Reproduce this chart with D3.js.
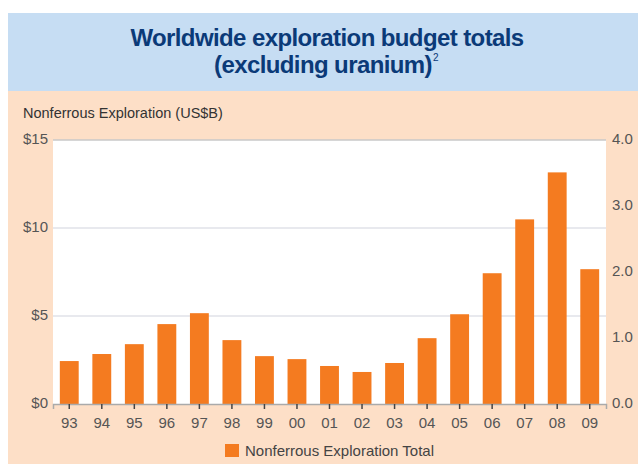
<!DOCTYPE html>
<html><head><meta charset="utf-8">
<script src="https://cdn.jsdelivr.net/npm/d3@7"></script>
<style>
html,body{margin:0;padding:0;background:#fff;}
svg{display:block;}
</style></head>
<body>
<svg id="chart" width="638" height="464"></svg>
<script>
const years = ["93","94","95","96","97","98","99","00","01","02","03","04","05","06","07","08","09"];
const totals = [2.44, 2.84, 3.40, 4.54, 5.16, 3.63, 2.72, 2.55, 2.16, 1.82, 2.33, 3.74, 5.10, 7.43, 10.49, 13.16, 7.66];
const leftTicks = [0, 5, 10, 15];
const rightTicks = [0, 1, 2, 3, 4];
const seriesName = "Nonferrous Exploration Total";
const titleLines = ["Worldwide exploration budget totals", "(excluding uranium)"];
const yTitle = "Nonferrous Exploration (US$B)";

const svg = d3.select("#chart");
const W = 638, H = 464;
const m = {left: 53, right: 606, top: 140, bottom: 404};

// backgrounds
svg.append("rect").attr("x", 8).attr("y", 13).attr("width", W - 8).attr("height", 78).attr("fill", "#c6ddf3");
svg.append("rect").attr("x", 8).attr("y", 91).attr("width", W - 8).attr("height", H - 91).attr("fill", "#fddfc7");

// title
const tfont = "'Liberation Sans', Arial, sans-serif";
svg.append("text").attr("x", 327).attr("y", 46).attr("text-anchor", "middle")
  .attr("font-family", tfont).attr("font-weight", "bold").attr("font-size", 24)
  .attr("letter-spacing", -0.6).attr("fill", "#0b3a78").text(titleLines[0]);
const t2 = svg.append("text").attr("x", 323).attr("y", 73).attr("text-anchor", "middle")
  .attr("font-family", tfont).attr("font-weight", "bold").attr("font-size", 24)
  .attr("letter-spacing", -0.6).attr("fill", "#0b3a78").text(titleLines[1]);
const bb = t2.node().getBBox();
svg.append("text").attr("x", bb.x + bb.width + 1).attr("y", 61)
  .attr("font-family", tfont).attr("font-size", 10).attr("fill", "#0b3a78").text("2");

// y title
svg.append("text").attr("x", 23).attr("y", 118)
  .attr("font-family", tfont).attr("font-size", 14.5).attr("fill", "#333").text(yTitle);

// scales
const x = d3.scaleBand().domain(years).range([m.left, m.right]).paddingInner(0.42).paddingOuter(0.21);
const y = d3.scaleLinear().domain([0, 15]).range([m.bottom, m.top]);
const y2 = d3.scaleLinear().domain([0, 4]).range([m.bottom, m.top]);

// plot bg
svg.append("rect").attr("x", m.left).attr("y", m.top).attr("width", m.right - m.left).attr("height", m.bottom - m.top).attr("fill", "#fff");

// gridlines
svg.append("g").selectAll("line").data(leftTicks.filter(d => d > 0)).join("line")
  .attr("x1", m.left).attr("x2", m.right)
  .attr("y1", d => y(d)).attr("y2", d => y(d))
  .attr("stroke", d => d === 15 ? "#c8c8c8" : "#e1e2e8").attr("stroke-width", 1.5);

// bars
svg.append("g").selectAll("rect").data(years).join("rect")
  .attr("x", d => x(d)).attr("width", x.bandwidth())
  .attr("y", (d, i) => y(totals[i])).attr("height", (d, i) => y(0) - y(totals[i]))
  .attr("fill", "#f47b20");

// axes
const lab = "'Liberation Sans', Arial, sans-serif";
const gl = svg.append("g").attr("transform", `translate(${m.left},0)`)
  .call(d3.axisLeft(y).tickValues(leftTicks).tickFormat(d => "$" + d).tickSize(0).tickPadding(5));
gl.select(".domain").remove();
gl.selectAll("text").attr("font-family", lab).attr("font-size", 15).attr("fill", "#555").attr("dy", "0.2em");

const gr = svg.append("g").attr("transform", `translate(${m.right},0)`)
  .call(d3.axisRight(y2).tickValues(rightTicks).tickFormat(d3.format(".1f")).tickSize(0).tickPadding(6));
gr.select(".domain").remove();
gr.selectAll("text").attr("font-family", lab).attr("font-size", 15).attr("fill", "#555").attr("dy", "0.2em");

const gb = svg.append("g").attr("transform", `translate(0,${m.bottom})`)
  .call(d3.axisBottom(x).tickSize(5).tickPadding(8));
gb.select(".domain").attr("stroke", "#aaa").attr("stroke-width", 1.5);
gb.selectAll(".tick line").attr("stroke", "#444").attr("stroke-width", 1.5);
gb.selectAll("text").attr("font-family", lab).attr("font-size", 15).attr("fill", "#555");

// legend
svg.append("rect").attr("x", 225).attr("y", 444).attr("width", 14).attr("height", 13).attr("fill", "#f47b20");
svg.append("text").attr("x", 245).attr("y", 456)
  .attr("font-family", lab).attr("font-size", 15).attr("fill", "#444").text(seriesName);
</script>
</body></html>
